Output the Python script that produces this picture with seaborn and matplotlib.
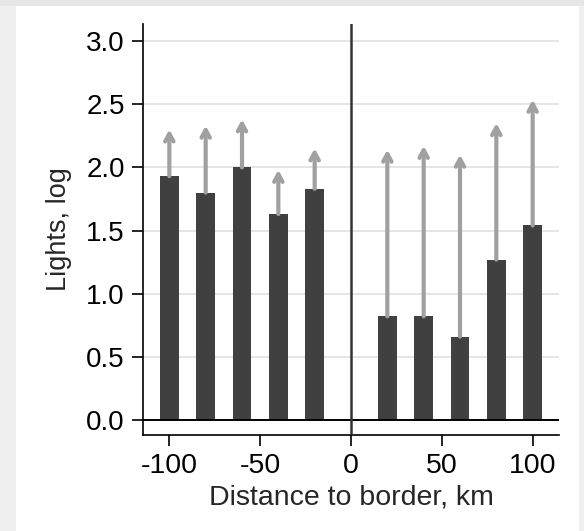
import pandas as pd
import seaborn as sns
import matplotlib.pyplot as plt
from matplotlib.patches import Rectangle

# data
distance_km = [-100, -80, -60, -40, -20, 20, 40, 60, 80, 100]
lights_log = [1.93, 1.80, 2.00, 1.63, 1.83, 0.82, 0.82, 0.66, 1.27, 1.54]
arrow_top = [2.32, 2.35, 2.40, 2.00, 2.17, 2.16, 2.19, 2.12, 2.37, 2.555]
y_ticks = [0.0, 0.5, 1.0, 1.5, 2.0, 2.5, 3.0]
x_ticks = [-100, -50, 0, 50, 100]

df = pd.DataFrame({'dist': distance_km, 'lights': lights_log, 'top': arrow_top})

sns.set_style('white')
plt.rcParams['font.family'] = ['Liberation Sans', 'DejaVu Sans']

fig = plt.figure(figsize=(5.84, 5.31), dpi=100, facecolor='#f0f0f0')
# white panel with a grey frame around it (drawn behind the axes)
fig.patches.append(Rectangle((16 / 584, 0), 563 / 584, 525 / 531,
                             transform=fig.transFigure, facecolor='white',
                             edgecolor='none', zorder=-10))
fig.patches.append(Rectangle((0, 525 / 531), 1, 6 / 531,
                             transform=fig.transFigure, facecolor='#e6e6e6',
                             edgecolor='none', zorder=-10))

ax = fig.add_axes([143 / 584, 1 - 435 / 531, 416 / 584, 411 / 531])
ax.set_facecolor('none')

sns.barplot(data=df, x='dist', y='lights', native_scale=True, width=0.515,
            color='#404040', saturation=1, errorbar=None, linewidth=0,
            ax=ax, zorder=3)

# arrows from bar top up
for x, y0, y1 in zip(df['dist'], df['lights'], df['top']):
    ax.annotate('', xy=(x, y1 - 0.02), xytext=(x, y0),
                arrowprops=dict(arrowstyle='->,head_length=0.55,head_width=0.3',
                                color='#a0a0a0', lw=3.0, shrinkA=0, shrinkB=0),
                zorder=4)

ax.axhline(0, color='black', lw=1.4, zorder=5)
ax.axvline(0, color='#333333', lw=1.8, zorder=5)

ax.set_xlim(-114.5, 114.5)
ax.set_ylim(-0.119, 3.135)
ax.set_xticks(x_ticks)
ax.set_xticklabels([str(v) for v in x_ticks])
ax.set_yticks(y_ticks)
ax.set_yticklabels([f'{v:.1f}' for v in y_ticks])

ax.yaxis.grid(True, color='#dedede', lw=1.1, zorder=0)
ax.xaxis.grid(False)
ax.set_axisbelow(True)

for s in ['top', 'right']:
    ax.spines[s].set_visible(False)
for s in ['left', 'bottom']:
    ax.spines[s].set_color('black')
    ax.spines[s].set_linewidth(1.2)

ax.tick_params(axis='both', which='major', direction='out', length=8, width=1.2,
               color='black', labelcolor='black', pad=5, left=True, bottom=True)
ax.tick_params(axis='x', labelsize=20.5)
ax.tick_params(axis='y', labelsize=20)

ax.set_xlabel('Distance to border, km', fontsize=20.5, labelpad=4)
ax.set_ylabel('Lights, log', fontsize=19.5, labelpad=10)

fig.savefig('out.png', dpi=100, facecolor=fig.get_facecolor())
